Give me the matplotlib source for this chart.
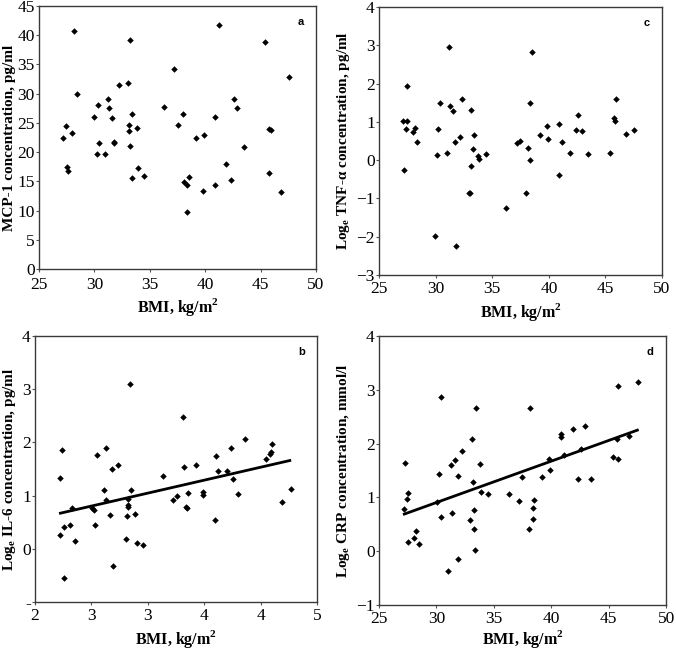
import matplotlib
matplotlib.use("Agg")
import matplotlib.pyplot as plt

# Panel a: MCP-1 vs BMI
a_x = [28.2, 41.2, 33.2, 45.4, 37.2, 47.6, 33.0, 32.2, 28.4, 31.2, 42.6, 30.3, 31.3, 42.9,
       36.3, 30.0, 33.4, 38.0, 40.9, 31.6, 27.4, 33.1, 37.5, 33.8, 45.8, 45.9, 33.1, 28.0,
       27.2, 39.9, 39.2, 30.4, 31.8, 31.8, 33.2, 43.5, 30.2, 31.0, 41.9, 27.5, 27.6, 33.9,
       34.5, 33.4, 38.1, 38.5, 38.4, 45.8, 42.3, 40.9, 39.8, 46.8, 38.4]
a_y = [40.8, 41.7, 39.2, 38.8, 34.2, 32.8, 31.8, 31.4, 30.0, 29.1, 29.1, 28.0, 27.5, 27.6,
       27.7, 26.0, 26.5, 26.5, 26.0, 25.8, 24.5, 24.6, 24.7, 24.1, 24.0, 23.8, 23.6, 23.3,
       22.4, 22.9, 22.4, 21.6, 21.8, 21.5, 21.1, 20.8, 19.7, 19.7, 18.0, 17.4, 16.7, 17.3,
       15.9, 15.5, 14.9, 15.8, 14.3, 16.4, 15.2, 14.4, 13.4, 13.1, 9.7]

# Panel c: log TNF-alpha vs BMI
c_x = [31.19, 38.53, 27.48, 32.34, 45.90, 30.37, 38.38, 31.28, 31.57, 33.11, 42.54, 45.75,
       45.87, 27.09, 27.45, 40.86, 39.80, 28.15, 27.36, 30.22, 42.38, 42.95, 47.55, 27.98,
       46.82, 33.40, 39.21, 32.19, 39.89, 28.39, 31.75, 37.47, 41.16, 37.18, 38.12, 33.34,
       30.10, 30.98, 34.46, 33.73, 33.81, 41.89, 43.48, 45.43, 38.38, 33.11, 27.18, 40.89,
       32.93, 33.08, 37.99, 36.26, 29.98, 31.81]
c_y = [2.95, 2.82, 1.94, 1.60, 1.60, 1.48, 1.49, 1.41, 1.29, 1.32, 1.18, 1.10,
       1.03, 1.02, 1.02, 0.94, 0.90, 0.85, 0.82, 0.82, 0.79, 0.77, 0.79, 0.74,
       0.68, 0.66, 0.65, 0.60, 0.56, 0.48, 0.48, 0.49, 0.47, 0.44, 0.33, 0.29,
       0.13, 0.18, 0.16, 0.11, 0.03, 0.18, 0.15, 0.18, 0.00, -0.14, -0.26, -0.40,
       -0.86, -0.86, -0.86, -1.25, -1.98, -2.23]

# Panel b: log IL-6 vs BMI (axis as printed)
b_x = [3.01, 3.57, 4.23, 4.52, 2.29, 4.09, 2.76, 4.51, 4.50, 2.66, 3.92, 4.46, 2.88, 3.71,
       3.58, 2.82, 3.95, 4.04, 2.27, 3.36, 4.11, 4.72, 2.73, 3.02, 3.79, 3.79, 4.16, 3.63,
       3.51, 3.47, 2.76, 2.99, 4.63, 2.99, 2.99, 2.61, 2.63, 2.39, 3.61, 3.62, 3.06, 2.80,
       2.98, 3.91, 2.64, 2.37, 2.31, 2.27, 2.97, 2.42, 3.08, 3.15, 2.83, 2.31]
b_y = [3.09, 2.48, 2.06, 1.98, 1.86, 1.90, 1.89, 1.82, 1.78, 1.76, 1.74, 1.69, 1.57, 1.57,
       1.53, 1.51, 1.47, 1.47, 1.34, 1.36, 1.32, 1.13, 1.10, 1.10, 1.07, 1.01, 1.04, 1.05,
       0.99, 0.92, 0.92, 0.93, 0.88, 0.82, 0.78, 0.77, 0.73, 0.77, 0.78, 0.76, 0.65, 0.63,
       0.62, 0.54, 0.45, 0.44, 0.41, 0.26, 0.19, 0.15, 0.11, 0.08, -0.32, -0.55]
b_fit_x = [2.27, 4.71]
b_fit_y = [0.67, 1.66]
b_xticks = [2, 2.6, 3.2, 3.8, 4.4, 5]
b_xticklabels = ['2', '3', '3', '4', '4', '5']
b_yticks = [-1, 0, 1, 2, 3, 4]
b_yticklabels = ['-', '0', '1', '2', '3', '4']

# Panel d: log CRP vs BMI
d_x = [47.53, 45.81, 30.44, 33.46, 38.17, 42.94, 41.86, 40.87, 40.87, 46.77, 45.76, 33.11,
       42.56, 32.24, 41.10, 45.38, 45.84, 39.83, 31.63, 27.27, 33.78, 31.31, 39.86, 30.23,
       31.86, 37.47, 39.19, 42.33, 43.43, 33.20, 27.53, 33.90, 34.51, 36.31, 27.44, 37.18,
       38.52, 30.06, 38.37, 27.21, 33.23, 31.34, 30.38, 32.90, 38.43, 33.23, 38.05, 28.26,
       28.05, 27.56, 28.46, 33.40, 31.89, 31.05]
d_y = [3.15, 3.07, 2.86, 2.67, 2.67, 2.33, 2.28, 2.17, 2.13, 2.15, 2.09, 2.08,
       1.90, 1.87, 1.79, 1.76, 1.71, 1.71, 1.70, 1.64, 1.63, 1.61, 1.51, 1.43,
       1.40, 1.37, 1.37, 1.35, 1.34, 1.28, 1.08, 1.10, 1.07, 1.07, 0.97, 0.94,
       0.95, 0.92, 0.81, 0.78, 0.76, 0.71, 0.63, 0.58, 0.60, 0.42, 0.41, 0.37,
       0.25, 0.17, 0.13, 0.02, -0.14, -0.36]
d_fit_x = [27.2, 47.5]
d_fit_y = [0.69, 2.25]

serif = ['Liberation Serif', 'DejaVu Serif']
sans = ['Liberation Sans', 'DejaVu Sans']
plt.rcParams['font.family'] = serif
plt.rcParams['mathtext.fontset'] = 'custom'
plt.rcParams['mathtext.rm'] = 'Liberation Serif'
plt.rcParams['mathtext.bf'] = 'Liberation Serif:bold'

fig = plt.figure(figsize=(6.76, 6.5), dpi=100)

ax_a = fig.add_axes([0.0577, 0.5862, 0.4098, 0.4046])
ax_c = fig.add_axes([0.5607, 0.5769, 0.4186, 0.4123])
ax_b = fig.add_axes([0.0518, 0.0738, 0.4172, 0.4092])
ax_d = fig.add_axes([0.5607, 0.0692, 0.4246, 0.4139])

fs = 11
tfs = 12.5

def style(ax, letter, xlpad=3, xpad=2):
    for s in ax.spines.values():
        s.set_color('#3a3a3a')
        s.set_linewidth(1.0)
    ax.tick_params(direction='out', length=2, width=0.8, labelsize=tfs,
                   top=False, right=False, color='#555555')
    ax.tick_params(axis='y', pad=1)
    ax.tick_params(axis='x', pad=xpad)
    ax.text(0.945, 0.94, letter, transform=ax.transAxes, fontsize=8,
            fontweight='bold', family=sans, ha='center', va='center')
    ax.set_xlabel('BMI, kg/m$^\\mathbf{2}$', fontsize=fs + 0.5, fontweight='bold',
                  labelpad=xlpad)

mk = dict(marker='D', s=11, color='black', linewidths=0, zorder=3)

# a
ax_a.scatter(a_x, a_y, **mk)
ax_a.set_xlim(25, 50)
ax_a.set_ylim(0, 45)
ax_a.set_xticks([25, 30, 35, 40, 45, 50])
ax_a.set_yticks(range(0, 46, 5))
ax_a.set_ylabel('MCP-1 concentration, pg/ml', fontsize=fs, fontweight='bold', labelpad=1)
style(ax_a, 'a', xlpad=2, xpad=4)

# c
ax_c.scatter(c_x, c_y, **mk)
ax_c.set_xlim(25, 50)
ax_c.set_ylim(-3, 4)
ax_c.set_xticks([25, 30, 35, 40, 45, 50])
ax_c.set_yticks(range(-3, 5))
ax_c.set_yticklabels(['\u22123', '\u22122', '\u22121', '0', '1', '2', '3', '4'])
ax_c.set_ylabel('Log$_\\mathbf{e}$ TNF-\u03b1 concentration, pg/ml', fontsize=fs,
                fontweight='bold', labelpad=3)
style(ax_c, 'c')

# b
ax_b.scatter(b_x, b_y, **mk)
ax_b.plot(b_fit_x, b_fit_y, color='black', lw=2, zorder=2)
ax_b.set_xlim(2, 5)
ax_b.set_ylim(-1, 4)
ax_b.set_xticks(b_xticks)
ax_b.set_xticklabels(b_xticklabels)
ax_b.set_yticks(b_yticks)
ax_b.set_yticklabels(b_yticklabels)
ax_b.set_ylabel('Log$_\\mathbf{e}$ IL-6 concentration, pg/ml', fontsize=fs,
                fontweight='bold', labelpad=3)
style(ax_b, 'b')

# d
ax_d.scatter(d_x, d_y, **mk)
ax_d.plot(d_fit_x, d_fit_y, color='black', lw=2, zorder=2)
ax_d.set_xlim(25, 50)
ax_d.set_ylim(-1, 4)
ax_d.set_xticks([25, 30, 35, 40, 45, 50])
ax_d.set_yticks(range(-1, 5))
ax_d.set_yticklabels(['\u22121', '0', '1', '2', '3', '4'])
ax_d.set_ylabel('Log$_\\mathbf{e}$ CRP concentration, mmol/l', fontsize=fs,
                fontweight='bold', labelpad=3)
style(ax_d, 'd', xlpad=1)

fig.savefig('out.png', dpi=100)
